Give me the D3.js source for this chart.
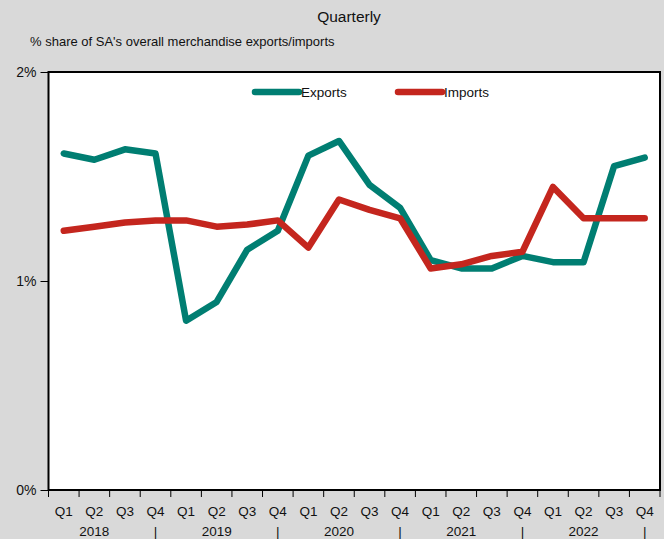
<!DOCTYPE html>
<html><head><meta charset="utf-8">
<script src="https://cdn.jsdelivr.net/npm/d3@7"></script>
<style>
body{margin:0;background:#d9d9d9;}
svg{display:block;}
text{font-family:"Liberation Sans Narrow","Arial Narrow","Liberation Sans",Arial,sans-serif;fill:#111;}
</style></head>
<body>
<script>
const quarters = ["Q1","Q2","Q3","Q4"];
const years = ["2018","2019","2020","2021","2022"];
const exportsShare = [1.61,1.58,1.63,1.61, 0.81,0.90,1.15,1.24, 1.60,1.67,1.46,1.35, 1.10,1.06,1.06,1.12, 1.09,1.09,1.55,1.59];
const importsShare = [1.24,1.26,1.28,1.29, 1.29,1.26,1.27,1.29, 1.16,1.39,1.34,1.30, 1.06,1.08,1.12,1.14, 1.45,1.30,1.30,1.30];
const yTicks = [0,1,2];
const seriesNames = ["Exports","Imports"];
const colors = ["#007e72","#c4261e"];

const W=664,H=539;
const m={l:48.5,r:4,t:72,b:49};
const svg=d3.select("body").append("svg").attr("width",W).attr("height",H);
svg.append("rect").attr("width",W).attr("height",H).attr("fill","#d9d9d9");

const cats=[];
years.forEach(y=>quarters.forEach(q=>cats.push(y+" "+q)));
const x=d3.scaleBand().domain(cats).range([m.l,W-m.r]);
const y=d3.scaleLinear().domain([0,2]).range([H-m.b,m.t]);

svg.append("rect").attr("x",m.l).attr("y",m.t).attr("width",W-m.r-m.l).attr("height",H-m.b-m.t)
  .attr("fill","#fff").attr("stroke","#000").attr("stroke-width",2);

// y axis
const ya=svg.append("g").attr("transform",`translate(${m.l},0)`)
  .call(d3.axisLeft(y).tickValues(yTicks).tickFormat(d=>d+"%").tickSize(8).tickPadding(4));
ya.select(".domain").remove();
ya.selectAll("line").attr("stroke","#000");
ya.selectAll("text").style("font-size","14px").attr("fill","#111");

// x axis ticks at band edges
const edges=cats.map(c=>x(c)).concat([x.range()[1]]);
svg.append("g").selectAll("line").data(edges).join("line")
  .attr("x1",d=>d).attr("x2",d=>d).attr("y1",H-m.b).attr("y2",H-m.b+7).attr("stroke","#000");
svg.append("g").selectAll("text").data(cats).join("text")
  .attr("x",c=>x(c)+x.bandwidth()/2).attr("y",H-m.b+26).attr("text-anchor","middle")
  .style("font-size","13.5px").text(c=>c.split(" ")[1]);
// year labels
const yl=svg.append("g");
years.forEach(yr=>{
  yl.append("text").attr("x",x(yr+" Q2")+x.bandwidth()/2).attr("y",H-m.b+46).attr("text-anchor","middle")
    .style("font-size","13.5px").text(yr);
  yl.append("text").attr("x",x(yr+" Q4")+x.bandwidth()/2).attr("y",H-m.b+46).attr("text-anchor","middle")
    .style("font-size","13.5px").text("|");
});

// lines
const line=d3.line().x((d,i)=>x(cats[i])+x.bandwidth()/2).y(d=>y(d));
[exportsShare,importsShare].forEach((s,k)=>{
  svg.append("path").datum(s).attr("d",line).attr("fill","none").attr("stroke",colors[k])
    .attr("stroke-width",6.5).attr("stroke-linejoin","round").attr("stroke-linecap","round");
});

// legend
const legX=[255,398];
seriesNames.forEach((n,k)=>{
  svg.append("line").attr("x1",legX[k]).attr("x2",legX[k]+44).attr("y1",92).attr("y2",92)
    .attr("stroke",colors[k]).attr("stroke-width",6.5).attr("stroke-linecap","round");
  svg.append("text").attr("x",legX[k]+46).attr("y",97).style("font-size","13.5px").text(n);
});

// titles
svg.append("text").attr("x",349).attr("y",22).attr("text-anchor","middle").style("font-size","15.5px").text("Quarterly");
svg.append("text").attr("x",30).attr("y",46).style("font-size","13px").text("%  share of SA's overall merchandise exports/imports");
</script>
</body></html>
